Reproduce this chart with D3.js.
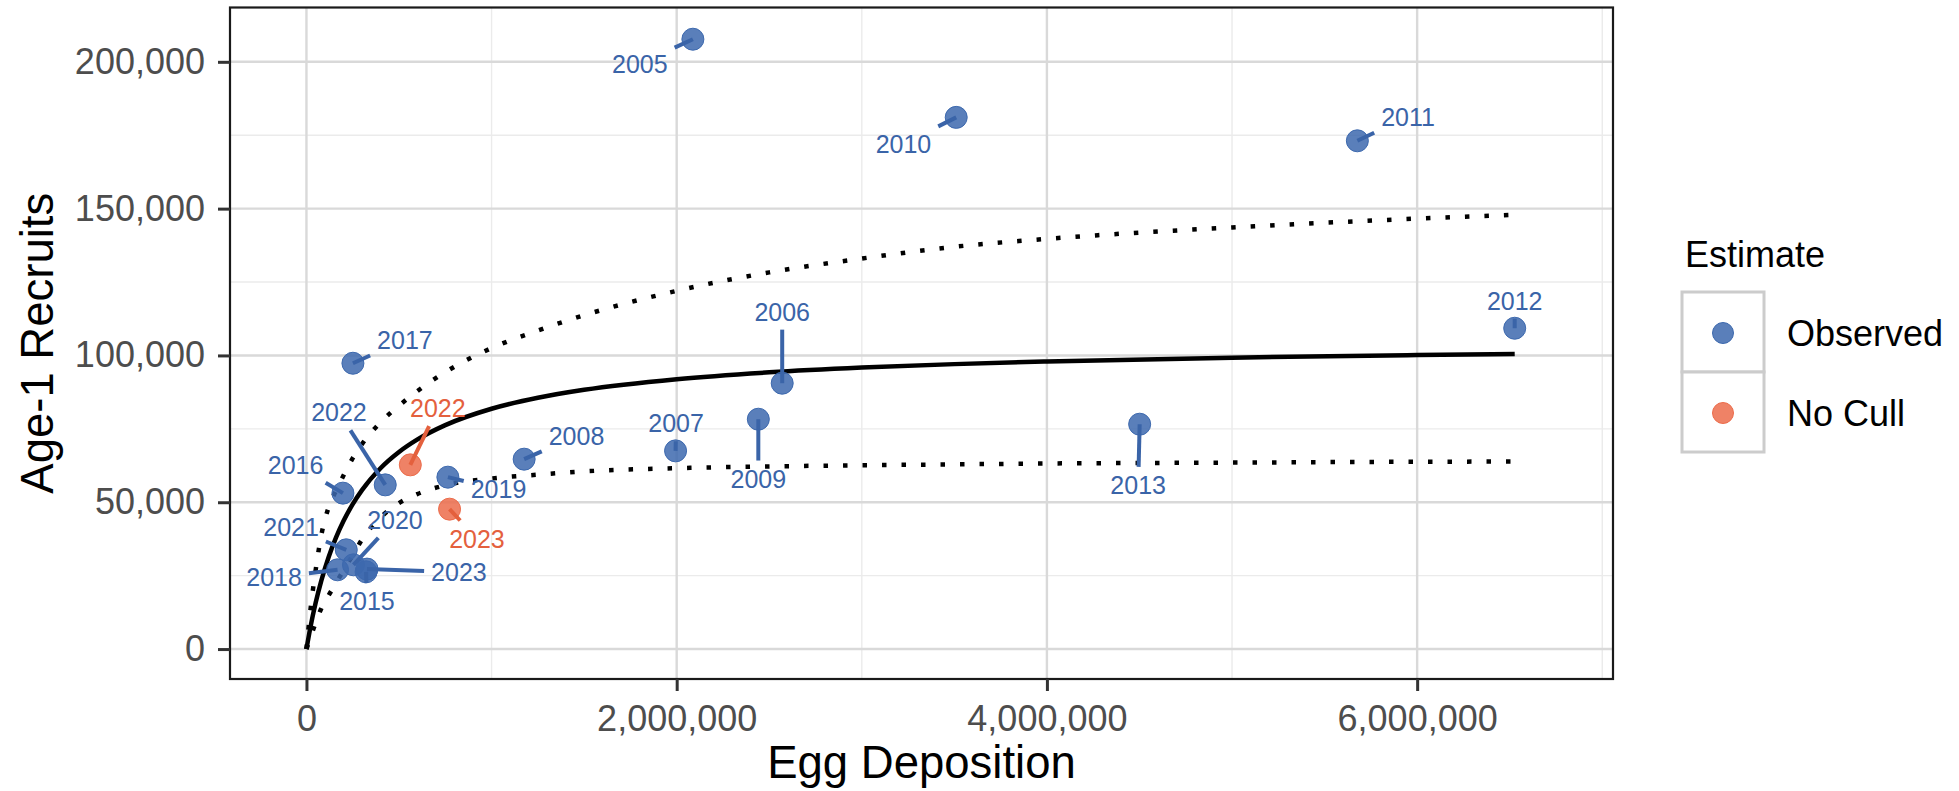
<!DOCTYPE html>
<html>
<head>
<meta charset="utf-8">
<script src="https://cdn.jsdelivr.net/npm/d3@7"></script>
<style>
    body { margin: 0; background: #ffffff; }
    svg { font-family: "Liberation Sans", Arial, Helvetica, sans-serif; }
</style>
</head>
<body>
<div id="chart"></div>
<script>
// brood years and which estimate each point belongs to
const years = [2005, 2006, 2007, 2008, 2009, 2010, 2011, 2012, 2013, 2015,
               2016, 2017, 2018, 2019, 2020, 2021, 2022, 2023, 2022, 2023];
const estimates = ["Observed", "Observed", "Observed", "Observed", "Observed",
                   "Observed", "Observed", "Observed", "Observed", "Observed",
                   "Observed", "Observed", "Observed", "Observed", "Observed",
                   "Observed", "Observed", "Observed", "No Cull", "No Cull"];
const eggs = [2087500, 2570000, 1994000, 1176000, 2441000, 3510000, 5677000, 6527000, 4501000, 322000,
              197000, 251000, 168000, 764000, 254000, 215000, 425600, 327000, 561000, 773000];
const recruits = [207700, 90540, 67500, 64670, 78280, 181080, 173100, 109260, 76580, 26300,
                  53100, 97340, 26990, 58540, 28690, 33800, 55920, 27230, 62730, 47650];

// where the repelled year labels sit (same units as the data)
const labelEggs = [1801000, 2570000, 1997000, 1459000, 2441000, 3225000, 5951000, 6527000, 4493000, 326800,
                   -58900, 532000, -175000, 1037500, 478000, -83200, 175500, 823600, 710000, 921000];
const labelRecruits = [199300, 114920, 76930, 72540, 58070, 172070, 181300, 118660, 55930, 16340,
                       62740, 105290, 24440, 54400, 44010, 41460, 80610, 26240, 82040, 37650];

// fitted curve and its bounds
const curveEggs = [0, 20000, 50000, 80000, 120000, 160000, 200000, 250000, 300000, 400000, 500000, 600000,
                   750000, 1000000, 1250000, 1500000, 2000000, 2500000, 3000000, 3500000, 4000000, 5000000, 6000000, 6527000];
const fitRecruits = [0, 6970, 15840, 23230, 31370, 38030, 43590, 49360, 54130, 61580, 67110, 71390,
                     76260, 81840, 85590, 88290, 91910, 94240, 95850, 97040, 97950, 99250, 100140, 100500];
const upperRecruits = [0, 12500, 27000, 38700, 48300, 54000, 59100, 65000, 69800, 77200, 82900, 87900,
                       94300, 102500, 108500, 113700, 122000, 128300, 133000, 137000, 139700, 143600, 146600, 147900];
const lowerRecruits = [0, 3600, 9000, 13800, 18300, 22500, 26800, 32000, 37300, 44800, 49700, 52800,
                       55800, 58100, 59400, 60500, 61600, 62200, 62600, 62900, 63200, 63500, 63800, 63850];

// axis ticks
const xMajor = [0, 2000000, 4000000, 6000000];
const xMinor = [1000000, 3000000, 5000000, 7000000];
const yMajor = [0, 50000, 100000, 150000, 200000];
const yMinor = [25000, 75000, 125000, 175000];

const legendLabels = ["Observed", "No Cull"];

class StockRecruitVis {
    constructor(_parentElement) {
        this.parentElement = _parentElement;
        this.initVis();
    }

    initVis() {
        let vis = this;

        vis.fullWidth = 1959;
        vis.fullHeight = 791;
        vis.panel = {left: 230, top: 7.5, right: 1613, bottom: 679};

        vis.svg = d3.select("#" + vis.parentElement).append("svg")
            .attr("width", vis.fullWidth)
            .attr("height", vis.fullHeight);

        vis.x = d3.scaleLinear()
            .domain([-413000, 7058000])
            .range([vis.panel.left, vis.panel.right]);
        vis.y = d3.scaleLinear()
            .domain([-10200, 218500])
            .range([vis.panel.bottom, vis.panel.top]);

        vis.color = d3.scaleOrdinal()
            .domain(legendLabels)
            .range(["#3d69ae", "#ec6c4b"]);
        vis.textColor = d3.scaleOrdinal()
            .domain(legendLabels)
            .range(["#3a64a8", "#e4603d"]);

        vis.wrangleData();
    }

    wrangleData() {
        let vis = this;

        vis.points = years.map((yr, i) => ({
            year: yr,
            estimate: estimates[i],
            egg: eggs[i],
            rec: recruits[i],
            labelEgg: labelEggs[i],
            labelRec: labelRecruits[i]
        }));

        vis.curves = [
            {name: "fit", values: fitRecruits, dash: null},
            {name: "upper", values: upperRecruits, dash: "4.5 15"},
            {name: "lower", values: lowerRecruits, dash: "4.5 15"}
        ].map(c => ({
            name: c.name,
            dash: c.dash,
            pts: curveEggs.map((e, i) => ({egg: e, rec: c.values[i]}))
        }));

        vis.updateVis();
    }

    updateVis() {
        let vis = this;
        let p = vis.panel;

        // grid: minor first, then major
        let grid = vis.svg.append("g").attr("class", "grid");
        xMinor.forEach(v => grid.append("line")
            .attr("x1", vis.x(v)).attr("x2", vis.x(v))
            .attr("y1", p.top).attr("y2", p.bottom)
            .style("stroke", "#ebebeb").style("stroke-width", 1.4));
        yMinor.forEach(v => grid.append("line")
            .attr("x1", p.left).attr("x2", p.right)
            .attr("y1", vis.y(v)).attr("y2", vis.y(v))
            .style("stroke", "#ebebeb").style("stroke-width", 1.4));
        xMajor.forEach(v => grid.append("line")
            .attr("x1", vis.x(v)).attr("x2", vis.x(v))
            .attr("y1", p.top).attr("y2", p.bottom)
            .style("stroke", "#d9d9d9").style("stroke-width", 2.4));
        yMajor.forEach(v => grid.append("line")
            .attr("x1", p.left).attr("x2", p.right)
            .attr("y1", vis.y(v)).attr("y2", vis.y(v))
            .style("stroke", "#d9d9d9").style("stroke-width", 2.4));

        // fitted line and dotted bounds
        let line = d3.line()
            .x(d => vis.x(d.egg))
            .y(d => vis.y(d.rec))
            .curve(d3.curveMonotoneX);

        vis.svg.append("g").selectAll("path")
            .data(vis.curves)
            .enter().append("path")
            .attr("d", d => line(d.pts))
            .style("fill", "none")
            .style("stroke", "#000")
            .style("stroke-width", 4.5)
            .style("stroke-dasharray", d => d.dash);

        // points
        vis.svg.append("g").selectAll("circle")
            .data(vis.points)
            .enter().append("circle")
            .attr("cx", d => vis.x(d.egg))
            .attr("cy", d => vis.y(d.rec))
            .attr("r", 11)
            .style("fill", d => vis.color(d.estimate))
            .style("fill-opacity", 0.85)
            .style("stroke", d => vis.color(d.estimate))
            .style("stroke-width", 1);

        // year labels with leader segments
        let fs = 25;
        let labels = vis.svg.append("g");
        vis.points.forEach(function(d) {
            let cx = vis.x(d.labelEgg);
            let cy = vis.y(d.labelRec);
            let txt = labels.append("text")
                .attr("x", cx)
                .attr("y", cy + 0.36 * fs)
                .attr("text-anchor", "middle")
                .style("font-size", fs + "px")
                .style("fill", vis.textColor(d.estimate))
                .text(d.year);

            let hx = txt.node().getComputedTextLength() / 2 + 7;
            let hy = 0.36 * fs + 9;
            let px = vis.x(d.egg), py = vis.y(d.rec);
            let dx = px - cx, dy = py - cy;
            if (Math.abs(dx) <= hx && Math.abs(dy) <= hy) return;
            let t = Math.min(dx === 0 ? Infinity : hx / Math.abs(dx),
                             dy === 0 ? Infinity : hy / Math.abs(dy));
            labels.insert("line", "text")
                .attr("x1", px).attr("y1", py)
                .attr("x2", cx + dx * t).attr("y2", cy + dy * t)
                .style("stroke", vis.textColor(d.estimate))
                .style("stroke-width", 4);
        });

        // panel border
        vis.svg.append("rect")
            .attr("x", p.left).attr("y", p.top)
            .attr("width", p.right - p.left).attr("height", p.bottom - p.top)
            .style("fill", "none")
            .style("stroke", "#1a1a1a")
            .style("stroke-width", 2.2);

        // axes
        let fmt = d3.format(",");
        let xAxis = vis.svg.append("g")
            .attr("transform", "translate(0," + p.bottom + ")")
            .call(d3.axisBottom(vis.x).tickValues(xMajor).tickFormat(fmt).tickSize(12).tickPadding(14));
        let yAxis = vis.svg.append("g")
            .attr("transform", "translate(" + p.left + ",0)")
            .call(d3.axisLeft(vis.y).tickValues(yMajor).tickFormat(fmt).tickSize(12).tickPadding(13));

        [xAxis, yAxis].forEach(function(ax) {
            ax.select(".domain").remove();
            ax.selectAll(".tick line").style("stroke", "#333").style("stroke-width", 3);
            ax.selectAll(".tick text")
                .style("font-size", "36px")
                .style("fill", "#4d4d4d")
                .style("font-family", "Liberation Sans, Arial, sans-serif");
        });

        // axis titles
        vis.svg.append("text")
            .attr("x", (p.left + p.right) / 2)
            .attr("y", 778)
            .attr("text-anchor", "middle")
            .style("font-size", "45.5px")
            .text("Egg Deposition");

        vis.svg.append("text")
            .attr("transform", "translate(53," + ((p.top + p.bottom) / 2) + ") rotate(-90)")
            .attr("text-anchor", "middle")
            .style("font-size", "45.5px")
            .text("Age-1 Recruits");

        // legend
        let legend = vis.svg.append("g").attr("transform", "translate(1682,292)");
        legend.append("text")
            .attr("x", 3).attr("y", -25)
            .style("font-size", "36px")
            .text("Estimate");

        legendLabels.forEach(function(lab, i) {
            let g = legend.append("g").attr("transform", "translate(0," + (i * 80) + ")");
            g.append("rect")
                .attr("width", 82).attr("height", 80)
                .style("fill", "#fff")
                .style("stroke", "#cccccc")
                .style("stroke-width", 3);
            g.append("circle")
                .attr("cx", 41).attr("cy", 41)
                .attr("r", 10.5)
                .style("fill", vis.color(lab))
                .style("fill-opacity", 0.85)
                .style("stroke", vis.color(lab));
            g.append("text")
                .attr("x", 105).attr("y", 41 + 0.36 * 36)
                .style("font-size", "36px")
                .text(lab);
        });
    }
}

let stockRecruitVis = new StockRecruitVis("chart");
</script>
</body>
</html>
